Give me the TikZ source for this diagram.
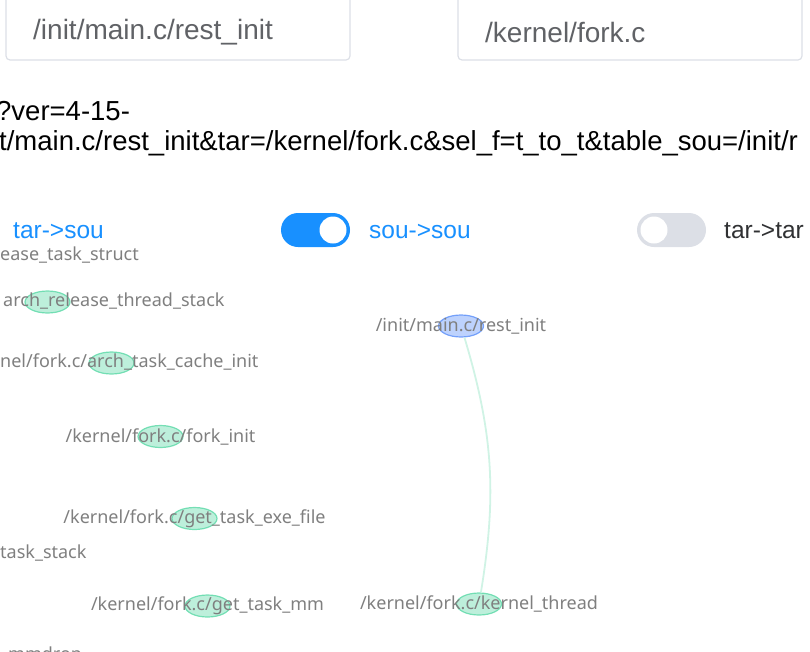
\documentclass[tikz,border=0pt]{standalone}
\usepackage{fontspec}
\setmainfont{Liberation Sans}
\newfontfamily\graphfont{Noto Sans}
\usetikzlibrary{positioning, shapes.geometric}
\definecolor{inputborder}{HTML}{DCDFE6}
\definecolor{inputtext}{HTML}{606266}
\definecolor{switchblue}{HTML}{1890FF}
\definecolor{switchgray}{HTML}{DCDFE6}
\definecolor{labeldark}{HTML}{303133}
\definecolor{nodegray}{HTML}{7F7F7F}
\definecolor{nodegreen}{HTML}{5AD8A6}
\definecolor{nodeblue}{HTML}{5B8FF9}
\definecolor{edgemint}{HTML}{D0F3E5}

\begin{document}
\begin{tikzpicture}[x=1pt, y=-1pt,
  inputbox/.style={draw=inputborder, line width=1.2pt, rounded corners=4pt},
  txt/.style={inner sep=0pt, anchor=west},
  fn/.style={inner sep=0pt, text=nodegray, font=\graphfont\fontsize{18}{18}\selectfont},
  callee/.style={ellipse, draw=nodegreen, line width=1.2pt, fill=nodegreen, fill opacity=0.4, draw opacity=0.8, minimum width=45pt, minimum height=22pt, inner sep=0pt},
  caller/.style={callee, draw=nodeblue, fill=nodeblue},
  edge/.style={draw=edgemint, line width=1.8pt}]
  \useasboundingbox (0,0) rectangle (810,651);
  \clip (0,0) rectangle (810,651);

  % search inputs
  \draw[inputbox] (6,-8) rectangle (350,60);
  \draw[inputbox] (458,-8) rectangle (802,60);
  \node[txt, text=inputtext, font=\fontsize{28}{28}\selectfont] (sou) at (33,32) {/init/main.c/rest\_init};
  \node[txt, text=inputtext, font=\fontsize{28}{28}\selectfont] (tar) at (485,32) {/kernel/fork.c};

  % url
  \node[txt, font=\fontsize{27.5}{28}\selectfont] (url1) at (-4,111) {?ver=4-15-};
  \node[txt, font=\fontsize{27.5}{28}\selectfont] (url2) at (-1,143) {t/main.c/rest\_init\&tar=/kernel/fork.c\&sel\_f=t\_to\_t\&table\_sou=/init/r};

  % switches
  \fill[switchblue, rounded corners=17pt] (281,213) rectangle (350,247);
  \fill[white] (333,230) circle (13.5);
  \fill[switchgray, rounded corners=17pt] (637,213) rectangle (706,247);
  \fill[white] (654,230) circle (13.5);
  \node[txt, text=switchblue, font=\fontsize{24.5}{25}\selectfont] (tarsou) at (13,231) {tar->sou};
  \node[txt, text=switchblue, font=\fontsize{24.5}{25}\selectfont] (sousou) at (369,231) {sou->sou};
  \node[txt, text=labeldark, font=\fontsize{24.5}{25}\selectfont] (tartar) at (724,231) {tar->tar};

  % nodes
  \node[callee] (archrelease) at (47.5,302) {};
  \node[callee] (archcache) at (111.5,363) {};
  \node[callee] (forkinit) at (160.5,436.5) {};
  \node[callee] (exefile) at (194.5,518.5) {};
  \node[callee] (taskmm) at (207.5,606) {};
  \node[caller] (restinit) at (461,326) {};
  \node[callee] (kthread) at (479,604) {};

  % edges
  \draw[edge] (restinit) to[bend left=13] (kthread);

  % labels
  \node[fn, anchor=west] (lreleasetask) at (0,255) {ease\_task\_struct};
  \node[fn, anchor=west] (larchrelease) at (3,301) {arch\_release\_thread\_stack};
  \node[fn, anchor=west] (larchcache) at (0,362) {nel/fork.c/arch\_task\_cache\_init};
  \node[fn] (lforkinit) at (forkinit) {/kernel/fork.c/fork\_init};
  \node[fn] (lexefile) at (exefile) {/kernel/fork.c/get\_task\_exe\_file};
  \node[fn, anchor=west] (ltaskstack) at (0,553) {task\_stack};
  \node[fn] (ltaskmm) at (taskmm) {/kernel/fork.c/get\_task\_mm};
  \node[fn, anchor=west] (lmmdrop) at (8,656) {mmdrop};
  \node[fn] (lrestinit) at (restinit) {/init/main.c/rest\_init};
  \node[fn] (lkthread) at (kthread) {/kernel/fork.c/kernel\_thread};
\end{tikzpicture}
\end{document}
